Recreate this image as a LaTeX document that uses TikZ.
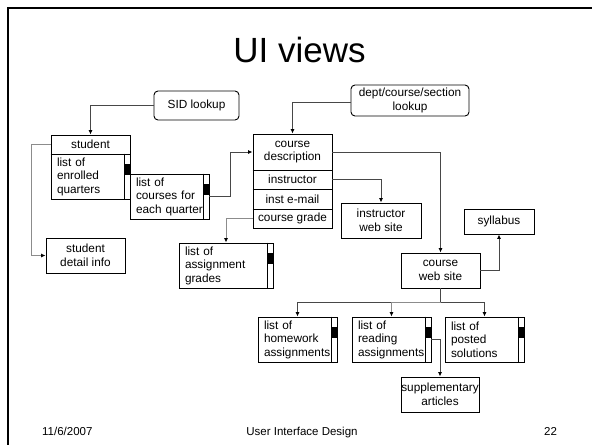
\documentclass[tikz,border=0pt]{standalone}
\usepackage{fontspec}
\setmainfont{Liberation Sans}
\usetikzlibrary{arrows.meta}
% scrollbar strip with its thumb along the right edge of a list node
\newcommand\drawscroll[1]{%
  \draw[line width=0.9pt] ([xshift=-6pt]#1.north east) -- ([xshift=-6pt]#1.south east);
  \fill ([xshift=-6pt,yshift=-10pt]#1.north east) rectangle ([yshift=-21pt]#1.north east);
}
\begin{document}
\begin{tikzpicture}[x=1pt,y=-1pt,
  every node/.style={font=\fontsize{11.8}{13.5}\selectfont, inner sep=0pt},
  box/.style={draw=black, line width=0.9pt, align=center, fill=white},
  lookup/.style={box, rounded corners=4pt},
  listbox/.style={box, align=left, inner xsep=6pt, text width=67pt,
    minimum width=79pt, minimum height=45pt},
  sepline/.style={line width=1.7pt},
  tip/.style={-{Latex[length=4.5pt,width=4pt,color=black]}},
  conn/.style={draw=black!72, line width=0.9pt},
  connlight/.style={draw=black!45, line width=0.9pt},
  footer/.style={font=\fontsize{11.5}{13}\selectfont},
]
\useasboundingbox (0,0) rectangle (592,445);

% slide frame
\draw[line width=2.6pt] (592,8) -- (8,8) -- (8,445);

% title
\node[font=\fontsize{35}{40}\selectfont, anchor=base] (title) at (299.5,62) {UI views};

% lookup entry points
\node[lookup, minimum width=85pt, minimum height=29pt] (sid) at (196.5,105.5) {SID lookup};
\node[lookup, minimum width=118pt, minimum height=31pt] (dept) at (410,100.5) {dept/course/section\\lookup};

% student view
\node[box, minimum width=79pt, minimum height=19pt] (shead) at (90.5,144.5) {student};
\node[listbox] (slist) at (90.5,176.5) {list of\\enrolled\\quarters};
\node[listbox] (courses) at (169.5,196.5) {list of\\courses for\\each quarter};
\node[box, minimum width=79pt, minimum height=35pt] (detail) at (85.5,255.5) {student\\detail info};

% course view
\node[box, minimum width=79pt, minimum height=36pt] (cdesc) at (292.5,152) {course\\description};
\node[box, minimum width=79pt, minimum height=19pt] (cinst) at (292.5,179.5) {instructor};
\node[box, minimum width=79pt, minimum height=20pt] (cmail) at (292.5,199) {inst e-mail};
\node[box, minimum width=79pt, minimum height=19pt] (cgrade) at (292.5,218.5) {course grade};
\draw[sepline] (shead.south west) -- (shead.south east);
\draw[sepline] (cdesc.south west) -- (cdesc.south east);
\draw[sepline] (cinst.south west) -- (cinst.south east);
\draw[sepline] (cmail.south west) -- (cmail.south east);

\node[box, minimum width=80pt, minimum height=35pt] (iws) at (381,220.5) {instructor\\web site};
\node[listbox, text width=82pt, minimum width=94pt] (agrades) at (226,265.5) {list of\\assignment\\grades};

% course web site and its pages
\node[box, minimum width=79pt, minimum height=35pt] (cws) at (440.5,270.5) {course\\web site};
\node[box, minimum width=70pt, minimum height=25pt] (syl) at (499,221.5) {syllabus};
\node[listbox] (hw) at (297.5,339.5) {list of\\homework\\assignments};
\node[listbox] (read) at (391.5,339.5) {list of\\reading\\assignments};
\node[listbox] (sol) at (484.5,339.5) {list of\\posted\\solutions};
\node[box, minimum width=78pt, minimum height=35pt] (supp) at (440,394.5) {supplementary\\articles};

% scrollbars of the list views
\drawscroll{slist}
\drawscroll{courses}
\drawscroll{agrades}
\drawscroll{hw}
\drawscroll{read}
\drawscroll{sol}

% connectors
\draw[conn, tip] (sid.west) -| (shead.north);
\draw[connlight, tip] (shead.west) -- ++(-19,0) |- (detail.west);
\draw[conn, tip] (courses.east) -- ++(21,0) |- (cdesc.west);
\draw[conn, tip] ([yshift=-2pt]dept.west) -| (cdesc.north);
\draw[conn, tip] (cdesc.east) -| (cws.north);
\draw[conn, tip] (cinst.east) -| (iws.north);
\draw[connlight, tip] (cgrade.west) -| (agrades.north);
\draw[conn, tip] (cws.east) -| (syl.south);
\draw[conn] (cws.south) -- ++(0,14) coordinate (split);
\draw[conn, tip] (split) -| (hw.north);
\draw[connlight, tip] (split) -| (read.north);
\draw[conn, tip] (split) -| (sol.north);
\draw[conn, tip] (read.east) -| (supp.north);

% footer
\node[footer, anchor=base west] (date) at (42,435) {11/6/2007};
\node[footer, anchor=base] (course) at (302,435) {User Interface Design};
\node[footer, anchor=base] (page) at (550.5,435) {22};
\end{tikzpicture}
\end{document}
